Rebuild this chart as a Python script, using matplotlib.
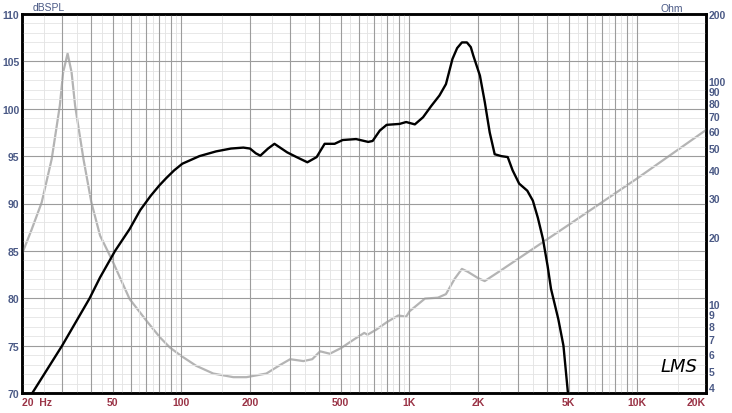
import numpy as np
import matplotlib
matplotlib.use('Agg')
import matplotlib.pyplot as plt

plt.rcParams['font.family'] = ['Liberation Sans', 'DejaVu Sans']

# SPL curve (black), dB
spl_freq = [22.2, 30, 39.6, 44, 51.2, 59.3, 66, 73.3, 80, 86, 93, 101, 120, 142, 165, 187, 200, 212, 222, 240, 256,
            291, 320, 357, 392, 425, 470, 510, 584, 660, 690, 742, 795, 906, 968, 1057, 1148,
            1248, 1355, 1447, 1545, 1620, 1700, 1788, 1860, 1908, 2039, 2142, 2251, 2367, 2530, 2700,
            2837, 3030, 3290, 3480, 3660, 3850, 4040, 4180, 4500, 4740, 4960]
spl_db = [70, 75, 80, 82.2, 85, 87.3, 89.3, 90.8, 91.9, 92.7, 93.5, 94.2, 95.0, 95.5, 95.8, 95.9, 95.8, 95.3, 95.05, 95.8, 96.3,
          95.4, 94.9, 94.35, 94.9, 96.3, 96.3, 96.7, 96.8, 96.5, 96.6, 97.7, 98.3, 98.4, 98.6, 98.35, 99.1,
          100.3, 101.4, 102.6, 105.25, 106.4, 107.0, 107.0, 106.5, 105.6, 103.5, 100.7, 97.5, 95.2, 95.0, 94.9,
          93.5, 92.1, 91.35, 90.3, 88.5, 86.3, 83.4, 81.0, 77.8, 75.0, 70.0]

# impedance curve (grey), Ohm
imp_freq = [20, 22, 24.4, 27, 29.3, 30.3, 31.7, 33, 34.2, 37.2, 40.3, 44, 49.5, 59.3, 70.3, 80.6, 89,
            100, 116, 138, 169, 193, 236, 271, 300, 343, 375, 406, 448, 503, 565, 634, 655, 717,
            795, 893, 968, 1002, 1170, 1335, 1447, 1580, 1700, 1800, 2000, 2140, 2500, 5000,
            10000, 20000]
imp_ohm = [16.8, 21.5, 28.6, 44.8, 77.6, 109.5, 133, 109.5, 77.6, 44.8, 28.6, 20.3, 15.9, 10.55, 8.43, 7.1, 6.4,
           5.86, 5.3, 4.89, 4.71, 4.71, 4.89, 5.34, 5.67, 5.56, 5.67, 6.15, 6.0, 6.37, 6.9, 7.44, 7.3, 7.7,
           8.3, 8.9, 8.8, 9.3, 10.6, 10.7, 11.1, 13.0, 14.4, 14.0, 13.1, 12.7, 14.1, 22.7,
           36.7, 60.4]

x_ticks = [20, 50, 100, 200, 500, 1000, 2000, 5000, 10000, 20000]
x_labels = ['20  Hz', '50', '100', '200', '500', '1K', '2K', '5K', '10K', '20K']
db_ticks = [70, 75, 80, 85, 90, 95, 100, 105, 110]
ohm_ticks = [4, 5, 6, 7, 8, 9, 10, 20, 30, 40, 50, 60, 70, 80, 90, 100, 200]

blue = '#4b5a86'
red = '#9a3346'

fig = plt.figure(figsize=(7.32, 4.14), dpi=100)
ax = fig.add_axes([22/732, 1-394/414, 684/732, 379/414])
ax.set_xscale('log')
ax.set_xlim(20, 20000)
ax.set_ylim(70, 110)

# grid
for dec in [10, 100, 1000, 10000]:
    for m in range(1, 10):
        f = dec * m
        if 20 < f < 20000:
            ax.axvline(f, color='#9c9c9c', lw=0.8, zorder=1)
        fh = dec * (m + 0.5)
        if 20 < fh < 20000:
            ax.axvline(fh, color='#e2e2e2', lw=0.6, zorder=0)
for v in range(71, 110):
    if v % 5 == 0:
        ax.axhline(v, color='#9c9c9c', lw=0.8, zorder=1)
    else:
        ax.axhline(v, color='#e4e4e4', lw=0.6, zorder=0)

ax.plot(spl_freq, spl_db, color='black', lw=1.7, zorder=4, clip_on=True)

ax.set_xticks(x_ticks)
ax.set_xticklabels(x_labels)
ax.xaxis.set_minor_locator(matplotlib.ticker.NullLocator())
ax.set_yticks(db_ticks)
ax.set_yticklabels([str(v) for v in db_ticks])
ax.tick_params(axis='x', length=0, pad=3, labelsize=7.5, labelcolor=red)
ax.tick_params(axis='y', length=0, pad=2, labelsize=7.5, labelcolor=blue)
for lbl in ax.get_xticklabels():
    lbl.set_fontweight('bold')
for lbl in ax.get_yticklabels():
    lbl.set_fontweight('bold')
ax.get_xticklabels()[0].set_horizontalalignment('left')
ax.get_xticklabels()[-1].set_horizontalalignment('right')

for s in ax.spines.values():
    s.set_linewidth(1.8)
    s.set_color('black')

ax2 = ax.twinx()
ax2.set_yscale('log')
ax2.set_ylim(4, 200)
ax2.plot(imp_freq, imp_ohm, color='#b4b4b4', lw=1.6, zorder=3)
ax2.set_yticks(ohm_ticks)
ax2.set_yticklabels([str(v) for v in ohm_ticks])
ax2.yaxis.set_minor_locator(matplotlib.ticker.NullLocator())
ax2.tick_params(axis='y', length=0, pad=2, labelsize=7.5, labelcolor=blue)
for lbl in ax2.get_yticklabels():
    lbl.set_fontweight('bold')
ax2.get_yticklabels()[0].set_verticalalignment('bottom')
for s in ax2.spines.values():
    s.set_linewidth(1.8)
ax.set_zorder(ax2.get_zorder() + 1)
ax.patch.set_visible(False)

fig.text(33/732, 1-8/414, 'dBSPL', color=blue, fontsize=7.5, va='center', ha='left')
fig.text(672/732, 1-9/414, 'Ohm', color=blue, fontsize=7.5, va='center', ha='center')
ax.text(0.988, 0.07, 'LMS', transform=ax.transAxes, fontsize=13, style='italic',
        family='DejaVu Sans', ha='right', va='center', color='black')

fig.savefig('out.png', dpi=100)
